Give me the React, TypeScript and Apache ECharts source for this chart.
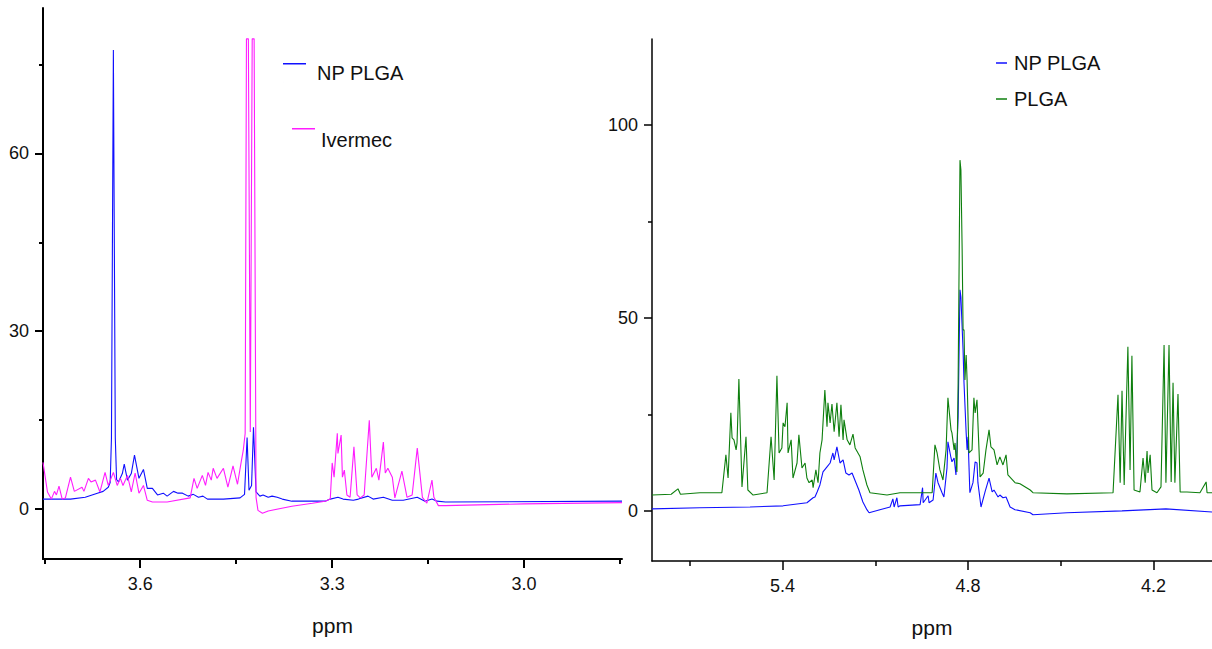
import React, { useEffect, useRef } from "react";
import * as echarts from "echarts";

// ---- tick values ----
const leftXMajor = [3.6, 3.3, 3.0];
const leftXMinor = [3.75, 3.45, 3.15, 2.85];
const leftYMajor = [0, 30, 60];
const leftYMinor = [15, 45, 75];
const rightXMajor = [5.4, 4.8, 4.2];
const rightXMinor = [5.7, 5.1, 4.5];
const rightYMajor = [0, 50, 100];
const rightYMinor = [25, 75];

// ---- left panel spectra [ppm, intensity] ----
const npPlgaLeft: [number, number][] = [
  [3.752, 1.7], [3.709, 1.7], [3.686, 2.0], [3.667, 2.7], [3.658, 3.0], [3.65, 3.7],
  [3.647, 4.5], [3.645, 12], [3.642, 77.4], [3.639, 12], [3.637, 5], [3.634, 4.6],
  [3.628, 6.0], [3.625, 7.6], [3.62, 4.9], [3.614, 6.0], [3.609, 9.1], [3.602, 5.2],
  [3.595, 6.7], [3.589, 3.5], [3.581, 3.5], [3.573, 2.4], [3.564, 2.7], [3.558, 2.2],
  [3.548, 3.0], [3.541, 2.7], [3.534, 2.7], [3.525, 2.2], [3.517, 2.5], [3.509, 2.0],
  [3.502, 2.2], [3.495, 1.7], [3.47, 1.7], [3.444, 1.9], [3.437, 2.5], [3.433, 12.1],
  [3.43, 3.2], [3.426, 4.0], [3.423, 13.8], [3.419, 2.9], [3.413, 2.2], [3.408, 2.4],
  [3.4, 2.0], [3.394, 2.2], [3.386, 2.0], [3.378, 1.7], [3.363, 1.35], [3.331, 1.35],
  [3.311, 1.35], [3.303, 1.7], [3.291, 2.0], [3.283, 1.7], [3.267, 1.5], [3.259, 1.7],
  [3.244, 2.2], [3.236, 1.7], [3.22, 2.0], [3.206, 1.5], [3.189, 1.5], [3.167, 2.0],
  [3.155, 1.35], [3.144, 1.7], [3.136, 1.35], [3.123, 1.2], [2.847, 1.35],
];

const ivermec: [number, number][] = [
  [3.752, 7.9], [3.745, 2.9], [3.739, 1.7], [3.734, 3.0], [3.731, 2.4], [3.727, 3.9],
  [3.722, 1.7], [3.717, 1.9], [3.709, 5.4], [3.703, 3.0], [3.691, 3.7], [3.688, 3.0],
  [3.681, 5.2], [3.677, 4.6], [3.67, 4.9], [3.663, 2.9], [3.655, 6.2], [3.65, 4.0],
  [3.642, 6.2], [3.636, 4.0], [3.631, 5.2], [3.627, 4.0], [3.62, 5.7], [3.614, 2.9],
  [3.608, 6.1], [3.602, 2.7], [3.595, 4.0], [3.589, 1.5], [3.581, 1.2], [3.558, 1.2],
  [3.522, 1.9], [3.516, 5.2], [3.511, 3.5], [3.503, 5.7], [3.498, 4.0], [3.494, 6.2],
  [3.489, 4.9], [3.486, 6.9], [3.48, 5.2], [3.47, 6.9], [3.463, 3.7], [3.455, 7.3],
  [3.448, 4.2], [3.442, 8.1], [3.439, 9.9], [3.436, 12.8], [3.434, 79.3], [3.431, 79.3],
  [3.428, 13.0], [3.425, 79.3], [3.422, 79.3], [3.419, 2.0], [3.416, -0.2], [3.409, -0.7],
  [3.4, -0.3], [3.363, 0.5], [3.331, 1.0], [3.311, 1.35], [3.303, 1.7], [3.3, 7.8],
  [3.297, 5.4], [3.292, 12.8], [3.291, 9.4], [3.286, 12.5], [3.284, 5.4], [3.281, 6.6],
  [3.277, 2.4], [3.272, 2.0], [3.266, 10.5], [3.261, 2.4], [3.256, 1.9], [3.25, 2.4],
  [3.242, 15.0], [3.238, 5.4], [3.231, 6.9], [3.227, 4.9], [3.22, 11.3], [3.217, 6.1],
  [3.213, 6.9], [3.206, 5.4], [3.202, 1.9], [3.191, 6.4], [3.183, 2.0], [3.175, 2.4],
  [3.167, 10.3], [3.159, 2.0], [3.152, 1.0], [3.144, 4.9], [3.141, 2.0], [3.134, 0.6],
  [3.123, 0.6], [3.0, 0.9], [2.847, 1.1],
];

// ---- right panel spectra [ppm, intensity] ----
const npPlgaRight: [number, number][] = [
  [5.822, 0.5], [5.667, 0.8], [5.505, 1.0], [5.398, 1.3], [5.321, 2.1], [5.301, 3.4],
  [5.295, 3.6], [5.288, 4.9], [5.279, 6.7], [5.269, 10.1], [5.256, 11.4], [5.246, 12.4],
  [5.237, 15.0], [5.233, 13.2], [5.224, 16.6], [5.214, 12.4], [5.204, 13.2], [5.195, 9.8],
  [5.185, 9.3], [5.175, 9.8], [5.165, 7.8], [5.153, 5.4], [5.14, 2.3], [5.127, 0.3],
  [5.12, -0.5], [5.085, 0.3], [5.052, 1.0], [5.043, 3.1], [5.039, 1.0], [5.03, 3.4],
  [5.026, 1.0], [5.02, 1.3], [4.955, 1.6], [4.947, 6.0], [4.945, 2.1], [4.929, 3.9],
  [4.926, 2.1], [4.913, 2.8], [4.904, 9.8], [4.897, 7.3], [4.884, 4.7], [4.878, 3.6],
  [4.868, 11.1], [4.865, 17.9], [4.855, 13.7], [4.852, 12.7], [4.845, 13.7], [4.839, 9.3],
  [4.832, 24.4], [4.826, 57.3], [4.823, 55.4], [4.816, 41.7], [4.813, 33.2], [4.806, 20.2],
  [4.803, 15.8], [4.8, 19.2], [4.794, 4.7], [4.784, 7.3], [4.777, 12.7], [4.771, 12.4],
  [4.768, 7.3], [4.758, 1.0], [4.745, 4.9], [4.732, 8.5], [4.722, 4.9], [4.716, 5.4],
  [4.703, 3.6], [4.697, 4.1], [4.687, 3.4], [4.677, 3.6], [4.664, 1.0], [4.648, 0.3],
  [4.599, -0.5], [4.59, -1.0], [4.48, -0.5], [4.302, 0.0], [4.16, 0.5], [4.011, -0.3],
];

const plga: [number, number][] = [
  [5.822, 4.1], [5.76, 4.3], [5.738, 5.7], [5.73, 4.3], [5.667, 4.7], [5.596, 4.7],
  [5.583, 14.5], [5.576, 8.5], [5.567, 25.4], [5.563, 18.9], [5.557, 18.4], [5.55, 15.8],
  [5.547, 17.6], [5.541, 34.2], [5.531, 6.2], [5.518, 19.2], [5.512, 5.4], [5.495, 4.1],
  [5.45, 4.7], [5.437, 19.2], [5.427, 8.0], [5.418, 35.0], [5.411, 15.0], [5.402, 16.3],
  [5.398, 22.8], [5.392, 21.8], [5.385, 28.0], [5.382, 15.0], [5.372, 18.4], [5.366, 8.5],
  [5.353, 12.4], [5.347, 19.7], [5.337, 11.1], [5.327, 12.4], [5.321, 8.5], [5.314, 7.3],
  [5.304, 8.0], [5.301, 6.0], [5.292, 10.6], [5.285, 7.3], [5.279, 15.0], [5.272, 18.4],
  [5.263, 31.3], [5.256, 21.8], [5.253, 28.0], [5.246, 22.8], [5.24, 27.7], [5.233, 20.5],
  [5.224, 28.0], [5.217, 19.2], [5.211, 27.5], [5.204, 18.4], [5.201, 23.6], [5.191, 18.4],
  [5.182, 17.1], [5.172, 19.9], [5.165, 16.3], [5.149, 14.0], [5.14, 10.6], [5.127, 6.7],
  [5.117, 4.7], [5.062, 4.1], [5.02, 4.7], [4.955, 4.7], [4.916, 4.7], [4.907, 17.1],
  [4.9, 15.0], [4.891, 10.6], [4.881, 8.0], [4.871, 15.8], [4.865, 29.3], [4.855, 21.0],
  [4.852, 20.2], [4.845, 15.8], [4.842, 17.6], [4.836, 10.1], [4.832, 33.2], [4.826, 90.9],
  [4.823, 88.3], [4.819, 67.6], [4.816, 46.9], [4.813, 46.9], [4.81, 33.9], [4.806, 40.4],
  [4.803, 33.9], [4.797, 15.0], [4.787, 15.8], [4.781, 29.3], [4.777, 25.4], [4.771, 28.8],
  [4.761, 8.8], [4.751, 9.8], [4.742, 15.8], [4.732, 21.0], [4.726, 16.6], [4.716, 15.8],
  [4.706, 11.9], [4.697, 14.0], [4.687, 11.9], [4.677, 14.5], [4.671, 9.3], [4.648, 7.3],
  [4.632, 7.0], [4.599, 5.4], [4.59, 4.7], [4.48, 4.4], [4.331, 4.7], [4.315, 30.1],
  [4.308, 7.3], [4.302, 31.1], [4.295, 6.7], [4.283, 42.5], [4.276, 10.6], [4.27, 40.2],
  [4.263, 5.4], [4.244, 4.9], [4.234, 13.7], [4.227, 7.3], [4.221, 15.5], [4.218, 9.8],
  [4.211, 14.5], [4.205, 5.4], [4.189, 4.7], [4.176, 6.2], [4.166, 43.0], [4.16, 7.3],
  [4.15, 43.0], [4.143, 7.5], [4.137, 33.2], [4.131, 7.3], [4.121, 30.3], [4.114, 4.9],
  [4.092, 4.9], [4.05, 4.7], [4.03, 7.5], [4.027, 4.7], [4.011, 4.7],
];

const BLUE = "#1010ff";
const MAGENTA = "#ff1cff";
const GREEN = "#0e7f0e";
const FONT = "'Liberation Sans', Arial, sans-serif";

// legend icons: a short line at the top of a taller (invisible) box, so the text sits below it
const ICON_NP = "path://M0,0H23V1.5H0Z M0,18.5H0.01V20H0Z";
const ICON_IV = "path://M0,0H23V1.5H0Z M0,22.5H0.01V24H0Z";

function majorX(gridIndex: number, min: number, max: number, ticks: number[], w: number) {
  return {
    type: "value", gridIndex, min, max, inverse: true, position: "bottom",
    axisLine: { show: true, onZero: false, lineStyle: { color: "#000", width: w } },
    axisTick: { show: true, customValues: ticks, length: 9, lineStyle: { color: "#000", width: w } },
    axisLabel: { show: true, customValues: ticks, formatter: (v: number) => v.toFixed(1), fontSize: 18, color: "#111", margin: 16, fontFamily: FONT },
    splitLine: { show: false },
    name: "ppm", nameLocation: "middle", nameGap: 56,
    nameTextStyle: { fontSize: 21, color: "#111", fontFamily: FONT },
  };
}
function minorX(gridIndex: number, min: number, max: number, ticks: number[], h: number, w: number) {
  return {
    type: "value", gridIndex, min, max, inverse: true, position: "top", offset: -h,
    axisLine: { show: false },
    axisTick: { show: true, inside: true, customValues: ticks, length: 5, lineStyle: { color: "#000", width: w } },
    axisLabel: { show: false }, splitLine: { show: false },
  };
}
function majorY(gridIndex: number, min: number, max: number, ticks: number[], w: number) {
  return {
    type: "value", gridIndex, min, max, position: "left",
    axisLine: { show: true, onZero: false, lineStyle: { color: "#000", width: w } },
    axisTick: { show: true, customValues: ticks, length: 8, lineStyle: { color: "#000", width: w } },
    axisLabel: { show: true, customValues: ticks, fontSize: 18, color: "#111", margin: 14, fontFamily: FONT },
    splitLine: { show: false },
  };
}
function minorY(gridIndex: number, min: number, max: number, ticks: number[], wd: number, w: number) {
  return {
    type: "value", gridIndex, min, max, position: "right", offset: -wd,
    axisLine: { show: false },
    axisTick: { show: true, inside: true, customValues: ticks, length: 4, lineStyle: { color: "#000", width: w } },
    axisLabel: { show: false }, splitLine: { show: false },
  };
}

export default function App() {
  const ref = useRef<HTMLDivElement>(null);
  useEffect(() => {
    if (!ref.current) return;
    const chart = echarts.init(ref.current, null, { renderer: "svg" });
    const LW = 579, LH = 551, RW = 560, RH = 522;
    const line = (name: string, data: [number, number][], color: string, xi: number, yi: number) => ({
      type: "line", name, data, xAxisIndex: xi, yAxisIndex: yi, showSymbol: false, symbol: "none",
      lineStyle: { color, width: 1.1 }, itemStyle: { color }, clip: true, animation: false,
    });
    const legendText = { fontSize: 20, color: "#111", fontFamily: FONT };
    chart.setOption({
      animation: false,
      backgroundColor: "#fff",
      grid: [
        { left: 43, top: 8, width: LW, height: LH, containLabel: false },
        { left: 652, top: 39, width: RW, height: RH, containLabel: false },
      ],
      xAxis: [
        majorX(0, 2.847, 3.752, leftXMajor, 2),
        minorX(0, 2.847, 3.752, leftXMinor, LH, 2),
        majorX(1, 4.011, 5.822, rightXMajor, 1.5),
        minorX(1, 4.011, 5.822, rightXMinor, RH, 1.5),
      ],
      yAxis: [
        majorY(0, -8.4, 84.5, leftYMajor, 2),
        minorY(0, -8.4, 84.5, leftYMinor, LW, 2),
        majorY(1, -13, 122.3, rightYMajor, 1.5),
        minorY(1, -13, 122.3, rightYMinor, RW, 1.5),
      ],
      legend: [
        {
          data: [{ name: "NP PLGA", icon: ICON_NP }], left: 283, top: 63, padding: 0,
          itemWidth: 23, itemHeight: 20, selectedMode: false,
          textStyle: { ...legendText, padding: [0, 0, 0, 6] },
        },
        {
          data: [{ name: "Ivermec", icon: ICON_IV }], left: 292, top: 128, padding: 0,
          itemWidth: 23, itemHeight: 24, selectedMode: false,
          textStyle: { ...legendText, padding: [0, 0, 0, 1] },
        },
        {
          data: [{ name: "NP PLGA", icon: "rect" }, { name: "PLGA", icon: "rect" }],
          left: 996, top: 53, padding: 0, orient: "vertical", itemGap: 16,
          itemWidth: 11, itemHeight: 1.5, selectedMode: false,
          textStyle: { ...legendText, padding: [4, 0, 0, 2] },
        },
      ],
      series: [
        line("NP PLGA", npPlgaLeft, BLUE, 0, 0),
        line("Ivermec", ivermec, MAGENTA, 0, 0),
        line("NP PLGA", npPlgaRight, BLUE, 2, 2),
        line("PLGA", plga, GREEN, 2, 2),
      ],
    });
    return () => chart.dispose();
  }, []);
  return (
    <div
      ref={ref}
      style={{ position: "absolute", left: 0, top: 0, width: 1212, height: 649, background: "#fff" }}
    />
  );
}
